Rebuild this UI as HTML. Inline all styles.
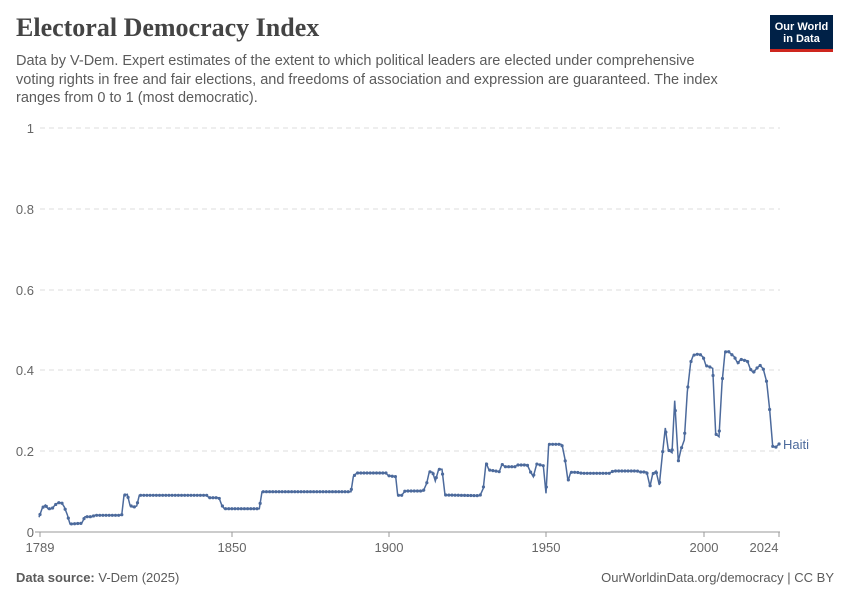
<!DOCTYPE html>
<html><head><meta charset="utf-8"><style>
body{margin:0;width:850px;height:600px;background:#fff;font-family:"Liberation Sans",sans-serif;position:relative;overflow:hidden}
.t{position:absolute;left:16px;top:13px;font-family:"Liberation Serif",serif;font-size:26px;font-weight:bold;color:#444}
.s{position:absolute;left:16px;top:52px;width:712px;font-size:14.5px;line-height:18.5px;color:#5b5b5b}
.logo{position:absolute;left:770px;top:15px;width:63px;height:37px;background:#002147;color:#fff;font-size:11px;font-weight:bold;text-align:center;line-height:12px;box-sizing:border-box;padding-top:6px;border-bottom:3px solid #ce261e}
.f{position:absolute;top:570px;font-size:13px;color:#5b5b5b}
</style></head><body>
<div class="t">Electoral Democracy Index</div>
<div class="s">Data by V-Dem. Expert estimates of the extent to which political leaders are elected under comprehensive voting rights in free and fair elections, and freedoms of association and expression are guaranteed. The index ranges from 0 to 1 (most democratic).</div>
<div class="logo">Our World<br>in Data</div>
<div class="f" style="left:16px"><b>Data source:</b> V-Dem (2025)</div>
<div class="f" style="right:16px">OurWorldinData.org/democracy | CC BY</div>
<svg id="c" width="850" height="600" style="position:absolute;left:0;top:0" font-family="Liberation Sans, sans-serif">
<g stroke="#ddd" stroke-dasharray="5,4">
<line x1="40" x2="780" y1="128" y2="128"/><line x1="40" x2="780" y1="209" y2="209"/>
<line x1="40" x2="780" y1="290" y2="290"/><line x1="40" x2="780" y1="370" y2="370"/>
<line x1="40" x2="780" y1="451" y2="451"/></g>
<line x1="35" x2="780" y1="532" y2="532" stroke="#999"/>
<g font-size="13" fill="#666" text-anchor="end">
<text x="34" y="133">1</text><text x="34" y="214">0.8</text><text x="34" y="295">0.6</text>
<text x="34" y="375">0.4</text><text x="34" y="456">0.2</text><text x="34" y="537">0</text></g>
<g stroke="#999"><line x1="40" x2="40" y1="532" y2="537"/><line x1="232" x2="232" y1="532" y2="537"/><line x1="389" x2="389" y1="532" y2="537"/><line x1="546" x2="546" y1="532" y2="537"/><line x1="704" x2="704" y1="532" y2="537"/><line x1="779" x2="779" y1="532" y2="537"/></g>
<g font-size="13" fill="#666" text-anchor="middle">
<text x="40" y="552">1789</text><text x="232" y="552">1850</text><text x="389" y="552">1900</text><text x="546" y="552">1950</text><text x="704" y="552">2000</text><text x="764" y="552">2024</text></g>
<text x="783" y="449" font-size="13" fill="#4c6a9c">Haiti</text>
<g id="d"></g>
</svg>
<script>
var k=[[39,517.3],[42.3,508],[45.3,505],[48,508.7],[52,508.7],[55,505],[58,502.7],[61.7,502.7],[64.3,507],[67.3,514.7],[70,524],[81.7,523.3],[85,516.7],[91.7,516.7],[95,515.3],[121.7,515.3],[124,495.3],[127.3,494.3],[130,505.3],[133.3,507.3],[136.7,506],[139.3,495.3],[206.7,495.3],[209,497.7],[219,497.7],[221.7,505],[224.3,508.7],[259.3,508.7],[262,491.7],[351,491.7],[353.3,476.7],[356.7,473],[386,473],[388.3,475.7],[395.7,476.7],[397.7,495.3],[401.7,495.3],[405,491],[423.3,491],[426.7,483.3],[429.3,471.7],[432.7,472.3],[435.3,481],[438.7,469.3],[442,469.3],[445,495],[480,495.7],[483.3,488.3],[486,462.7],[489,470],[499.3,471.7],[502,464.3],[505,466.7],[515,466.7],[517.3,465],[527.3,465],[530.7,472.3],[533.3,476.7],[536.7,464],[543.3,465.7],[546,493.3],[548.7,444.3],[561,444.3],[562.3,446],[565,459.3],[568,481],[570.7,472.3],[576.7,472.3],[581.7,473.3],[609.3,473.3],[613.3,471],[637.3,471],[640,472],[646.7,472],[650,486.3],[652.7,474],[656,471],[659.3,485],[662.3,455.3],[665.3,428],[668.3,450],[672,452.7],[674.7,400.7],[678.3,461.3],[681,449.3],[684.3,440],[687.3,392],[690.7,362.3],[693.3,355.3],[696.7,354.3],[700,354.3],[703.3,357.3],[706,365.7],[709.3,366.7],[712.7,368.3],[715.7,434],[719,436.7],[722,383.3],[725,352],[728.3,351.3],[731,354],[734.3,356.7],[737.7,363.3],[740.7,359.3],[744,360.3],[747.3,360.7],[750.3,369],[753.3,372.7],[756.7,368.3],[760,365.3],[763.3,369],[766.7,382],[769.7,410],[772.7,446.3],[775.7,447.3],[779,444]];
var g=document.getElementById('d'),ns='http://www.w3.org/2000/svg';
var p=document.createElementNS(ns,'polyline');
p.setAttribute('points',k.map(function(a){return a.join(',')}).join(' '));
p.setAttribute('fill','none');p.setAttribute('stroke','#4c6a9c');p.setAttribute('stroke-width','1.5');g.appendChild(p);
function yat(x){for(var i=0;i<k.length-1;i++){if(x>=k[i][0]&&x<=k[i+1][0]){var t=(x-k[i][0])/(k[i+1][0]-k[i][0]||1);return k[i][1]+t*(k[i+1][1]-k[i][1]);}}return k[k.length-1][1];}
for(var y=1789;y<=2024;y++){var x=40+(y-1789)*3.145;if(x<39)x=39;var c=document.createElementNS(ns,'circle');c.setAttribute('cx',x);c.setAttribute('cy',yat(x));c.setAttribute('r',1.6);c.setAttribute('fill','#4c6a9c');g.appendChild(c);}
</script>
</body></html>
